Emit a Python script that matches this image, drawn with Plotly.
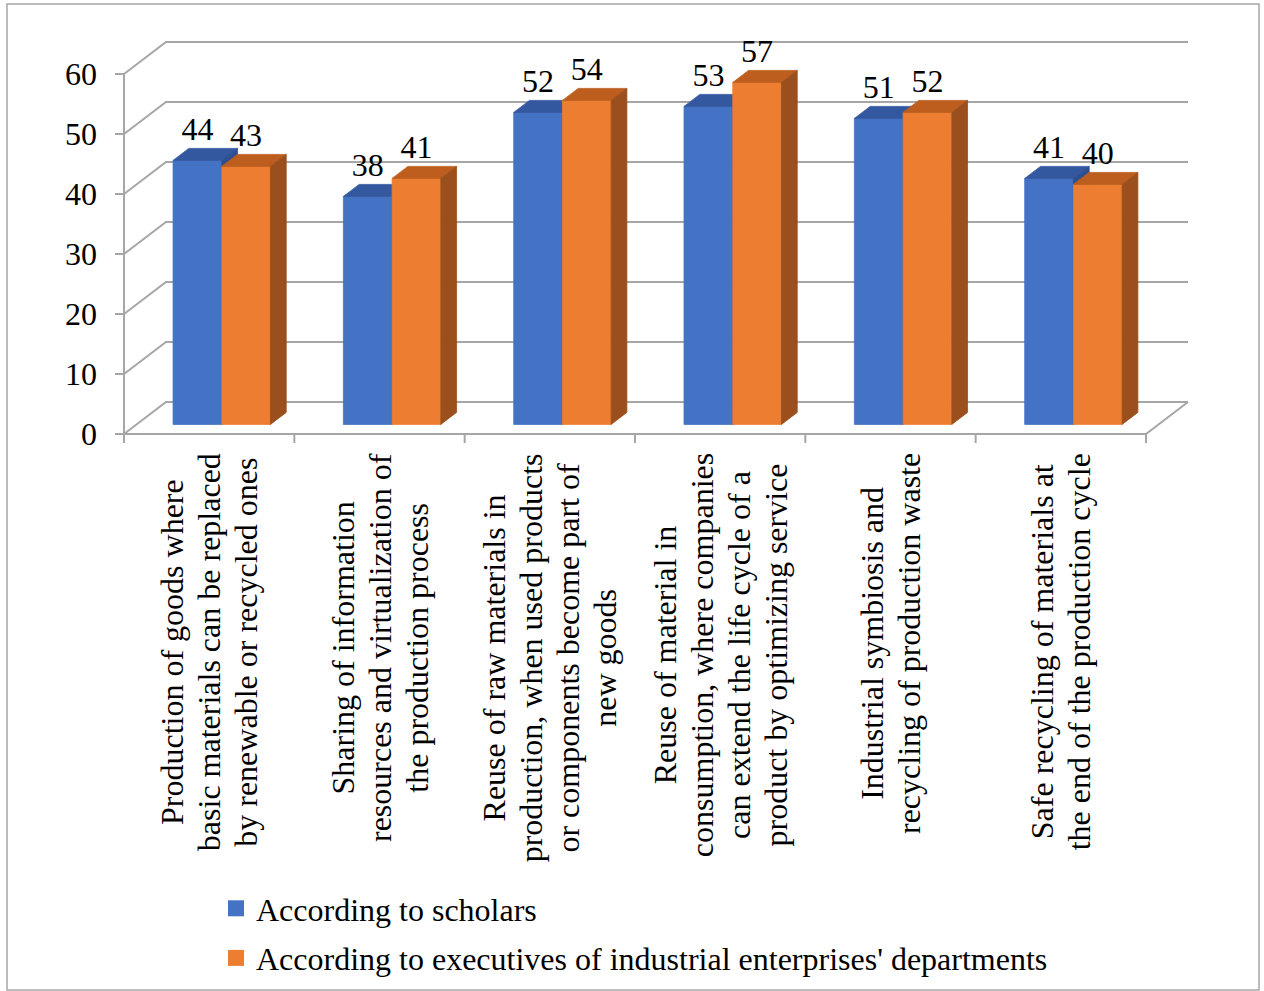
import plotly.graph_objects as go

# ---- data -------------------------------------------------------------
categories = [
    ["Production of goods where", "basic materials can be replaced", "by renewable or recycled ones"],
    ["Sharing of information", "resources and virtualization of", "the production process"],
    ["Reuse of raw materials in", "production, when used products", "or components become part of", "new goods"],
    ["Reuse of material in", "consumption, where companies", "can extend the life cycle of a", "product by optimizing service"],
    ["Industrial symbiosis and", "recycling of production waste"],
    ["Safe recycling of materials at", "the end of the production cycle"],
]
scholars = [44, 38, 52, 53, 51, 41]
executives = [43, 41, 54, 57, 52, 40]
series_names = [
    "According to scholars",
    "According to executives of industrial enterprises' departments",
]
y_ticks = [0, 10, 20, 30, 40, 50, 60]

# ---- styling ----------------------------------------------------------
FONT = "Liberation Serif, Times New Roman, serif"
GRID = "#A6A6A6"
FACE = {  # front, top, side colours per series
    0: ("#4472C4", "#3458A0", "#2E4F8F"),
    1: ("#ED7D31", "#BD5E1E", "#9B4F1C"),
}

W, H = 1264, 991
PL, PR, PT, PB = 112, 1200, 30, 450          # plot area in pixels
X0, UNIT_X = 124, 170.33                      # px of category 0 / px per category
Y0, UNIT_Y = 434, 6.0                         # px of value 0 / px per value unit
x_range = [(PL - X0) / UNIT_X, (PR - X0) / UNIT_X]
y_range = [(Y0 - PB) / UNIT_Y, (Y0 - PT) / UNIT_Y]

DEPTH_X = 42 / UNIT_X      # floor depth (category units)
DEPTH_Y = 32 / UNIT_Y      # floor depth (value units)
F0, F1 = 0.30, 0.675       # depth of bar front / back faces (fraction of floor)
BAR_W = 0.286
n = len(categories)


def px_x(p):
    return (p - PL) / (PR - PL)


def px_y(p):
    return (PB - p) / (PB - PT)


fig = go.Figure()

sx, sy = F0 * DEPTH_X, F0 * DEPTH_Y
ddx, ddy = (F1 - F0) * DEPTH_X, (F1 - F0) * DEPTH_Y

label_x, label_y, label_t = [], [], []
for s, values in enumerate([scholars, executives]):
    fronts, tops, sides = ([], []), ([], []), ([], [])
    for k, val in enumerate(values):
        xl = k + 0.5 + sx - BAR_W + s * BAR_W
        xr = xl + BAR_W
        base, top = sy, sy + val
        fx, fy = fronts
        fx += [xl, xr, xr, xl, xl, None]
        fy += [base, base, top, top, base, None]
        tx, ty = tops
        tx += [xl, xr, xr + ddx, xl + ddx, xl, None]
        ty += [top, top, top + ddy, top + ddy, top, None]
        ux, uy = sides
        ux += [xr, xr + ddx, xr + ddx, xr, xr, None]
        uy += [base, base + ddy, top + ddy, top, base, None]
        label_x.append((xl + xr) / 2)
        label_y.append(top + ddy)
        label_t.append(str(val))
    for (xs, ys), col in zip([fronts, tops, sides], FACE[s]):
        fig.add_trace(go.Scatter(
            x=xs, y=ys, mode="lines", fill="toself", fillcolor=col,
            line=dict(color=col, width=0.8), hoverinfo="skip", showlegend=False,
        ))

# value labels above each bar
fig.add_trace(go.Scatter(
    x=label_x, y=label_y, text=label_t, mode="text", textposition="top center",
    textfont=dict(family=FONT, size=32, color="black"),
    cliponaxis=False, hoverinfo="skip", showlegend=False,
))

# legend entries
for s, name in enumerate(series_names):
    fig.add_trace(go.Scatter(
        x=[None], y=[None], mode="markers", name=name, legendgroup=name,
        marker=dict(symbol="square", size=16, color=FACE[s][0]),
    ))

# ---- walls, floor and axis lines ----------------------------------------
shapes = []
line = dict(color=GRID, width=2)
for v in y_ticks:
    path = (f"M0,{v} L{DEPTH_X},{v + DEPTH_Y} L{n + DEPTH_X},{v + DEPTH_Y}")
    shapes.append(dict(type="path", path=path, xref="x", yref="y", line=line, layer="below"))
    # tick on the front axis
    shapes.append(dict(type="line", x0=-9 / UNIT_X, x1=0, y0=v, y1=v, xref="x", yref="y",
                       line=line, layer="below"))
# floor front edge and right edge
shapes.append(dict(type="path", path=f"M0,0 L{n},0 L{n + DEPTH_X},{DEPTH_Y}",
                   xref="x", yref="y", line=line, layer="below"))
# front vertical axis
shapes.append(dict(type="line", x0=0, x1=0, y0=0, y1=y_ticks[-1], xref="x", yref="y",
                   line=line, layer="below"))
# category boundary ticks
for k in range(n + 1):
    shapes.append(dict(type="line", x0=k, x1=k, y0=0, y1=-9 / UNIT_Y, xref="x", yref="y",
                       line=line, layer="below"))
# chart border
shapes.append(dict(type="rect", xref="paper", yref="paper",
                   x0=px_x(7), x1=px_x(1259), y0=px_y(990), y1=px_y(4),
                   line=dict(color="#A6A6A6", width=1.5), layer="below"))

# ---- category labels ---------------------------------------------------
annotations = []
for k, lines in enumerate(categories):
    text = "<br>".join(f'<span style="font-size:32px">{t}</span>' for t in lines)
    annotations.append(dict(
        x=k + 0.5, xref="x", y=px_y(451), yref="paper",
        text=text, textangle=-90, align="center",
        xanchor="center", yanchor="top", showarrow=False,
        font=dict(family=FONT, size=28.5, color="black"),
    ))

fig.update_layout(
    width=W, height=H,
    margin=dict(l=PL, r=W - PR, t=PT, b=H - PB, autoexpand=False),
    paper_bgcolor="white", plot_bgcolor="white",
    template="none",
    shapes=shapes, annotations=annotations,
    xaxis=dict(range=x_range, visible=False, fixedrange=True, automargin=False),
    yaxis=dict(range=y_range, tickvals=y_ticks, ticks="", showgrid=False, zeroline=False,
               showline=False, ticklabelstandoff=14, automargin=False, fixedrange=True,
               tickfont=dict(family=FONT, size=32, color="black")),
    legend=dict(x=px_x(216), y=px_y(881), xanchor="left", yanchor="top",
                font=dict(family=FONT, size=32, color="black"),
                bgcolor="rgba(0,0,0,0)", tracegroupgap=5, itemclick=False,
                itemdoubleclick=False),
    showlegend=True,
    hovermode=False,
)

fig.write_html("out.html", config={"displayModeBar": False})
